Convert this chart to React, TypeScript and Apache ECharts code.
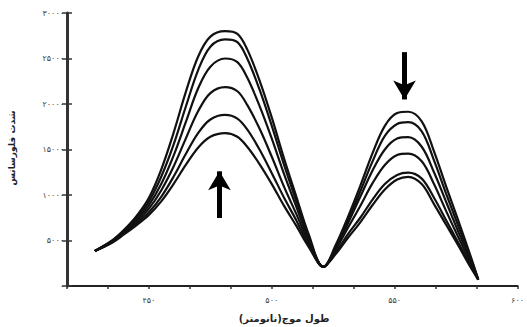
import React, { useEffect, useRef } from "react";
import * as echarts from "echarts";

const wavelengths = [428, 435, 440, 445, 450, 455, 460, 465, 470, 475, 481, 486, 490, 495, 500, 505, 510, 515, 521, 526, 531, 536, 541, 546, 551, 555.5, 561, 566, 571, 576, 581, 584];

const curve1 = [3850, 5000, 6200, 7700, 9700, 12800, 16800, 21300, 25200, 27400, 28000, 27700, 26000, 22600, 18500, 14000, 9800, 5700, 2100, 3500, 5300, 7000, 8900, 10600, 11700, 12000, 11200, 9000, 6700, 4400, 2000, 700];
const curve2 = [3850, 4950, 6100, 7500, 9300, 12000, 15500, 19700, 23700, 26300, 27100, 26800, 25000, 21600, 17600, 13300, 9300, 5400, 2100, 3700, 5700, 7500, 9500, 11200, 12200, 12450, 11800, 9700, 7200, 4700, 2200, 700];
const curve3 = [3850, 4900, 6000, 7300, 8900, 11200, 14300, 18000, 21700, 24100, 25000, 24600, 22900, 19800, 16200, 12300, 8700, 5100, 2100, 4000, 6400, 8800, 11300, 13300, 14400, 14550, 13700, 11200, 8200, 5300, 2500, 700];
const curve4 = [3850, 4850, 5900, 7100, 8500, 10500, 13100, 16200, 19200, 21200, 21850, 21400, 19900, 17300, 14200, 10900, 7900, 4800, 2100, 4200, 6900, 9800, 12700, 15000, 16200, 16350, 15300, 12500, 9200, 5900, 2800, 700];
const curve5 = [3850, 4800, 5800, 6900, 8100, 9800, 12000, 14500, 16800, 18300, 18800, 18400, 17200, 15000, 12400, 9700, 7200, 4500, 2100, 4300, 7200, 10400, 13700, 16500, 17800, 18000, 17000, 13800, 10100, 6500, 3000, 700];
const curve6 = [3850, 4750, 5700, 6700, 7800, 9300, 11200, 13300, 15200, 16400, 16800, 16400, 15300, 13400, 11200, 8800, 6600, 4300, 2100, 4500, 7600, 11000, 14600, 17600, 19000, 19150, 18100, 14800, 10900, 7100, 3200, 700];

const curves = [curve1, curve2, curve3, curve4, curve5, curve6];

const xMin = 1250 / 3;
const xMax = 600;
const xStep = 50 / 3;
const yMax = 30000;
const yStep = 5000;

const upArrow = [[478.7, 7470], [478.7, 12600]];
const downArrow = [[554, 25700], [554, 20500]];

const xTitle = "طول موج(نانومتر)";
const yTitle = "شدت فلورسانس";

const fa = "۰۱۲۳۴۵۶۷۸۹";
const toFa = (n: number) => String(n).replace(/[0-9]/g, (d) => fa[Number(d)]);

export default function App() {
  const ref = useRef<HTMLDivElement>(null);
  useEffect(() => {
    if (!ref.current) return;
    const chart = echarts.init(ref.current, null, { renderer: "svg" });
    const labelFont = "DejaVu Sans";
    const arrowLine = (pts: number[][]) => ({
      silent: true,
      symbol: ["none", "arrow"],
      symbolSize: [17, 19],
      label: { show: false },
      lineStyle: { color: "#000", width: 5, type: "solid" },
      data: [[{ coord: pts[0] }, { coord: pts[1] }]],
    });
    const series: any[] = curves.map((c, i) => ({
      type: "line",
      data: wavelengths.map((w, j) => [w, c[j]]),
      smooth: 0.35,
      showSymbol: false,
      lineStyle: { color: "#111", width: 2.2 },
      z: 3,
      markLine: i === 0 ? arrowLine(upArrow) : i === 1 ? arrowLine(downArrow) : undefined,
    }));
    chart.setOption({
      animation: false,
      backgroundColor: "#fff",
      grid: { left: 67, right: 5, top: 13, bottom: 41 },
      xAxis: {
        type: "value",
        min: xMin,
        max: xMax,
        interval: xStep,
        axisLine: { lineStyle: { color: "#222", width: 2 } },
        axisTick: { show: true, length: 3, lineStyle: { color: "#333", width: 1.5 } },
        splitLine: { show: false },
        axisLabel: {
          margin: 10,
          fontSize: 8,
          color: "#444",
          fontFamily: labelFont,
          formatter: (v: number) => {
            const r = Math.round(v / 50);
            return Math.abs(v / 50 - r) < 1e-6 ? toFa(r * 50) : "";
          },
        },
      },
      yAxis: [
        {
          type: "value",
          min: 0,
          max: yMax,
          interval: yStep,
          axisLine: { show: true, lineStyle: { color: "#333", width: 3 } },
          axisTick: { show: true, length: 5, lineStyle: { color: "#333", width: 1.5 } },
          splitLine: { show: false },
          axisLabel: {
            margin: 3,
            fontSize: 8,
            color: "#444",
            fontFamily: labelFont,
            formatter: (v: number) => toFa(v),
          },
        },
        {
          type: "value",
          min: 0,
          max: yMax,
          interval: yStep,
          position: "left",
          axisLine: { show: false },
          axisTick: { show: true, inside: true, length: 5, lineStyle: { color: "#333", width: 1.5 } },
          splitLine: { show: false },
          axisLabel: { show: false },
        },
      ],
      graphic: [
        {
          type: "text",
          x: 284,
          y: 318,
          style: {
            text: xTitle,
            font: "bold 10px 'DejaVu Sans'",
            fill: "#222",
            textAlign: "center",
            textVerticalAlign: "middle",
          },
        },
        {
          type: "text",
          x: 12,
          y: 148,
          rotation: Math.PI / 2,
          style: {
            text: yTitle,
            font: "bold 9px 'DejaVu Sans'",
            fill: "#222",
            textAlign: "center",
            textVerticalAlign: "middle",
          },
        },
      ],
      series,
    });
    return () => chart.dispose();
  }, []);
  return (
    <div
      ref={ref}
      style={{ position: "fixed", left: 0, top: 0, width: 527, height: 327, background: "#fff" }}
    />
  );
}
